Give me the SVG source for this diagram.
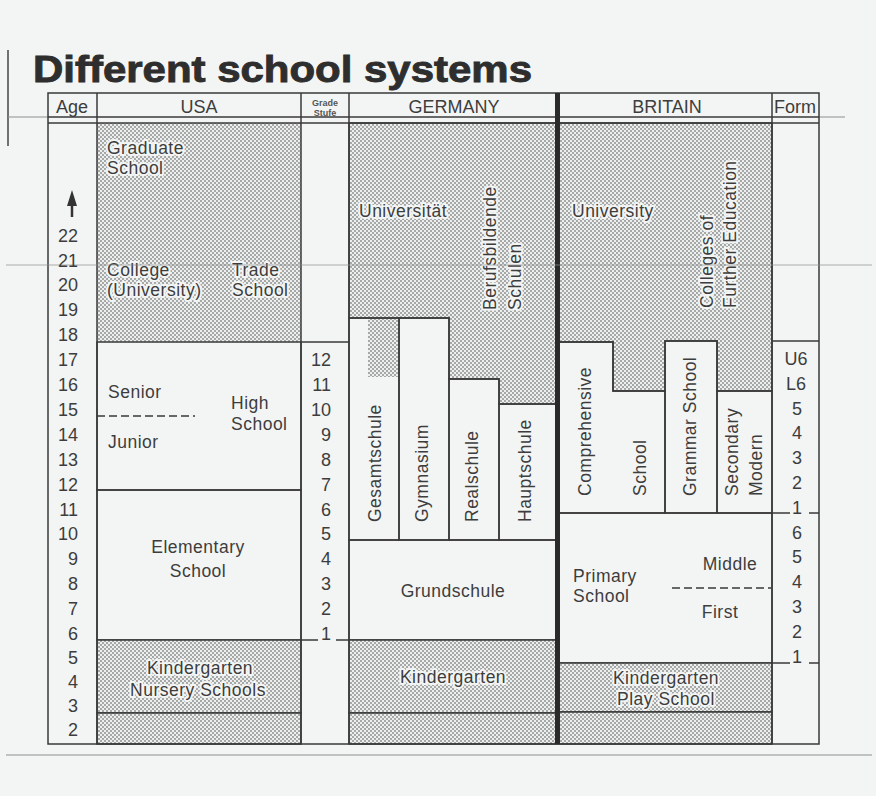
<svg xmlns="http://www.w3.org/2000/svg" width="876" height="796" viewBox="0 0 876 796">
<defs>
<pattern id="dots" width="4" height="4" patternUnits="userSpaceOnUse">
<rect width="4" height="4" fill="#edefee"/>
<circle cx="1" cy="1" r="0.9" fill="#858786"/>
<circle cx="3" cy="3" r="0.9" fill="#858786"/>
</pattern>
</defs>
<style>
text{font-family:"Liberation Sans",Arial,sans-serif;fill:#3d3d3d;font-size:18px}
.l{font-size:17.5px;letter-spacing:0.5px}
.h{paint-order:stroke;stroke:#f3f5f4;stroke-width:4px;stroke-linejoin:round}
.c{text-anchor:middle}
.e{text-anchor:end}
.ln{stroke:#383838;stroke-width:1.5}
.box{fill:none;stroke:#383838;stroke-width:1.5}
.sh{fill:url(#dots)}
.dash{stroke:#383838;stroke-width:1.3;stroke-dasharray:8 4;fill:none}
.art{stroke:#8d8f8e;stroke-width:1}
.g{font-size:9px;font-weight:bold;fill:#555}
</style>
<rect width="876" height="796" fill="#f3f5f4"/>

<g id="scan-marks">
<line x1="8" y1="50" x2="8" y2="146" stroke="#444" stroke-width="1.5"/>
<line class="art" x1="8" y1="117" x2="48" y2="117"/>
<line class="art" x1="819" y1="117" x2="845" y2="117"/>
<line class="art" x1="6" y1="755" x2="872" y2="755"/>
</g>

<g id="title">
<text x="33" y="82" textLength="499" lengthAdjust="spacingAndGlyphs" style="font-size:37px;font-weight:bold;fill:#2e2e2e;stroke:#2e2e2e;stroke-width:0.9">Different school systems</text>
</g>

<!-- USA -->
<g id="usa-graduate">
<rect x="97" y="123" width="204" height="219" class="sh"/>
<text class="l h" x="107" y="154">Graduate</text>
<text class="l h" x="107" y="174">School</text>
<text class="l h" x="107" y="276">College</text>
<text class="l h" x="107" y="296">(University)</text>
<text class="l h" x="232" y="276">Trade</text>
<text class="l h" x="232" y="296">School</text>
</g>
<g id="usa-high-school">
<rect x="97" y="342" width="204" height="148" class="box"/>
<line class="dash" x1="97" y1="416" x2="195" y2="416"/>
<text class="l" x="108" y="398">Senior</text>
<text class="l" x="108" y="448">Junior</text>
<text class="l" x="231" y="409">High</text>
<text class="l" x="231" y="430">School</text>
</g>
<g id="usa-elementary">
<rect x="97" y="490" width="204" height="150" class="box"/>
<text class="l c" x="198" y="553">Elementary</text>
<text class="l c" x="198" y="577">School</text>
</g>
<g id="usa-kindergarten">
<rect x="97" y="640" width="204" height="73" class="sh ln"/>
<rect x="97" y="713" width="204" height="31" class="sh ln"/>
<text class="l c h" x="200" y="674">Kindergarten</text>
<text class="l c h" x="198" y="696">Nursery Schools</text>
</g>

<!-- GERMANY -->
<g id="de-universitaet">
<polygon points="349,123 557,123 557,404 499,404 499,379 449,379 449,318 349,318" class="sh ln"/>
<text class="l h" x="359" y="217">Universität</text>
<text class="l h" transform="translate(496,310) rotate(-90)">Berufsbildende</text>
<text class="l h" transform="translate(521,310) rotate(-90)">Schulen</text>
</g>
<g id="de-gesamtschule">
<rect x="349" y="318" width="50" height="222" class="box"/>
<rect x="368" y="319" width="30" height="58" class="sh"/>
<text class="l" transform="translate(381,522) rotate(-90)">Gesamtschule</text>
</g>
<g id="de-gymnasium">
<rect x="399" y="318" width="50" height="222" class="box"/>
<text class="l" transform="translate(428,522) rotate(-90)">Gymnasium</text>
</g>
<g id="de-realschule">
<rect x="449" y="379" width="50" height="161" class="box"/>
<text class="l" transform="translate(478,522) rotate(-90)">Realschule</text>
</g>
<g id="de-hauptschule">
<rect x="499" y="404" width="58" height="136" class="box"/>
<text class="l" transform="translate(531,522) rotate(-90)">Hauptschule</text>
</g>
<g id="de-grundschule">
<rect x="349" y="540" width="208" height="100" class="box"/>
<text class="l c" x="453" y="597">Grundschule</text>
</g>
<g id="de-kindergarten">
<rect x="349" y="640" width="208" height="73" class="sh ln"/>
<rect x="349" y="713" width="208" height="31" class="sh ln"/>
<text class="l c h" x="453" y="683">Kindergarten</text>
</g>

<!-- BRITAIN -->
<g id="gb-university">
<polygon points="558,123 772,123 772,391 717,391 717,341 665,341 665,391 613,391 613,342 558,342" class="sh ln"/>
<text class="l h" x="572" y="217">University</text>
<text class="l h" transform="translate(713,308) rotate(-90)">Colleges of</text>
<text class="l h" transform="translate(736,308) rotate(-90)">Further Education</text>
</g>
<g id="gb-comprehensive">
<polygon points="558,342 613,342 613,391 665,391 665,513 558,513" class="box"/>
<text class="l" transform="translate(591,496) rotate(-90)">Comprehensive</text>
<text class="l" transform="translate(646,496) rotate(-90)">School</text>
</g>
<g id="gb-grammar">
<rect x="665" y="341" width="52" height="172" class="box"/>
<text class="l" transform="translate(696,496) rotate(-90)">Grammar School</text>
</g>
<g id="gb-secondary-modern">
<rect x="717" y="391" width="55" height="122" class="box"/>
<text class="l" transform="translate(738,496) rotate(-90)">Secondary</text>
<text class="l" transform="translate(762,496) rotate(-90)">Modern</text>
</g>
<g id="gb-primary">
<rect x="558" y="513" width="214" height="150" class="box"/>
<line class="dash" x1="672" y1="588" x2="771" y2="588"/>
<text class="l" x="573" y="582">Primary</text>
<text class="l" x="573" y="602">School</text>
<text class="l c" x="730" y="570">Middle</text>
<text class="l c" x="720" y="618">First</text>
</g>
<g id="gb-kindergarten">
<rect x="558" y="663" width="214" height="49" class="sh ln"/>
<rect x="558" y="712" width="214" height="32" class="sh ln"/>
<text class="l c h" x="666" y="684">Kindergarten</text>
<text class="l c h" x="666" y="705">Play School</text>
</g>

<!-- grid / frame lines -->
<g id="grid" fill="none">
<rect x="48" y="93" width="771" height="651" class="box"/>
<line class="ln" x1="48" y1="117" x2="819" y2="117"/>
<line class="ln" x1="48" y1="123" x2="819" y2="123"/>
<line class="ln" x1="97" y1="93" x2="97" y2="744"/>
<line class="ln" x1="301" y1="93" x2="301" y2="744"/>
<line class="ln" x1="349" y1="93" x2="349" y2="744"/>
<line class="ln" x1="772" y1="93" x2="772" y2="744"/>
<line x1="557.5" y1="93" x2="557.5" y2="744" stroke="#2a2a2a" stroke-width="5"/>
<line class="ln" x1="301" y1="342" x2="349" y2="342"/>
<line class="ln" x1="301" y1="640" x2="318" y2="640"/>
<line class="ln" x1="336" y1="640" x2="349" y2="640"/>
<line class="ln" x1="772" y1="341" x2="819" y2="341"/>
<line class="ln" x1="772" y1="513" x2="790" y2="513"/>
<line class="ln" x1="809" y1="513" x2="819" y2="513"/>
<line class="ln" x1="772" y1="663" x2="790" y2="663"/>
<line class="ln" x1="809" y1="663" x2="819" y2="663"/>
</g>

<g id="scan-line">
<line class="art" x1="6" y1="265" x2="872" y2="265" stroke-opacity="0.7"/>
</g>

<g id="header">
<text class="c" x="72" y="113">Age</text>
<text class="c" x="199" y="113">USA</text>
<text class="g c" x="325" y="105.5">Grade</text>
<text class="g c" x="325" y="115.5">Stufe</text>
<text class="c" x="454" y="113">GERMANY</text>
<text class="c" x="667" y="113">BRITAIN</text>
<text class="c" x="795" y="113">Form</text>
</g>

<g id="age-scale">
<line x1="72" y1="217" x2="72" y2="203" stroke="#333" stroke-width="2.5"/>
<polygon points="67,206 77,206 72,190" fill="#333"/>
<text class="e" x="78" y="242">22</text>
<text class="e" x="78" y="266.5">21</text>
<text class="e" x="78" y="291.4">20</text>
<text class="e" x="78" y="316.3">19</text>
<text class="e" x="78" y="341.2">18</text>
<text class="e" x="78" y="366.1">17</text>
<text class="e" x="78" y="391">16</text>
<text class="e" x="78" y="415.9">15</text>
<text class="e" x="78" y="440.8">14</text>
<text class="e" x="78" y="465.7">13</text>
<text class="e" x="78" y="490.6">12</text>
<text class="e" x="78" y="515.5">11</text>
<text class="e" x="78" y="540.4">10</text>
<text class="e" x="78" y="565.3">9</text>
<text class="e" x="78" y="590.2">8</text>
<text class="e" x="78" y="615.1">7</text>
<text class="e" x="78" y="639.5">6</text>
<text class="e" x="78" y="664">5</text>
<text class="e" x="78" y="688">4</text>
<text class="e" x="78" y="712">3</text>
<text class="e" x="78" y="736">2</text>
</g>

<g id="grade-scale">
<text class="e" x="331" y="366.1">12</text>
<text class="e" x="331" y="391">11</text>
<text class="e" x="331" y="415.9">10</text>
<text class="e" x="331" y="440.8">9</text>
<text class="e" x="331" y="465.7">8</text>
<text class="e" x="331" y="490.6">7</text>
<text class="e" x="331" y="515.5">6</text>
<text class="e" x="331" y="540.4">5</text>
<text class="e" x="331" y="565.3">4</text>
<text class="e" x="331" y="590.2">3</text>
<text class="e" x="331" y="615.1">2</text>
<text class="e" x="331" y="639.5">1</text>
</g>

<g id="form-scale">
<text class="c" x="796" y="364.5">U6</text>
<text class="c" x="796" y="389.5">L6</text>
<text class="c" x="797" y="414.5">5</text>
<text class="c" x="797" y="439">4</text>
<text class="c" x="797" y="464">3</text>
<text class="c" x="797" y="489">2</text>
<text class="c" x="797" y="513.5">1</text>
<text class="c" x="797" y="538.5">6</text>
<text class="c" x="797" y="563">5</text>
<text class="c" x="797" y="588">4</text>
<text class="c" x="797" y="613">3</text>
<text class="c" x="797" y="637.5">2</text>
<text class="c" x="797" y="662.5">1</text>
</g>
</svg>
